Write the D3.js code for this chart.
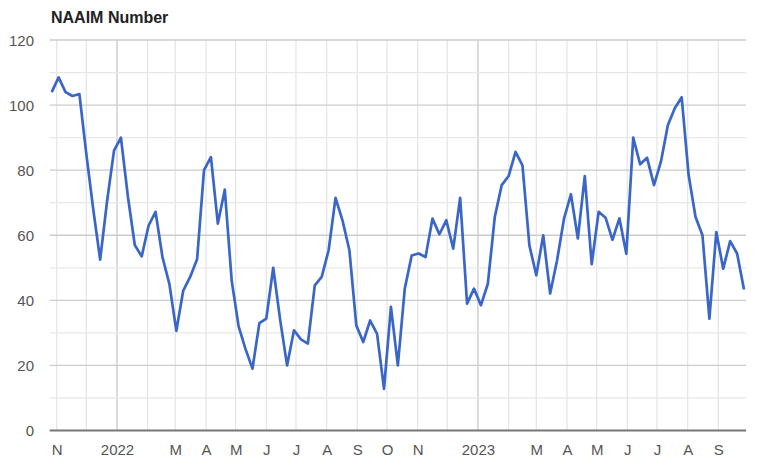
<!DOCTYPE html>
<html>
<head>
<meta charset="utf-8">
<script src="https://cdn.jsdelivr.net/npm/d3@7"></script>
<style>
  html, body { margin: 0; padding: 0; background: #fff; }
  svg { display: block; font-family: "Liberation Sans", Arial, sans-serif; }
</style>
</head>
<body>
<svg id="chart" width="758" height="468"></svg>
<script>
// ---- data ----
const title = "NAAIM Number";
const startDate = "2021-10-27";   // first weekly reading (Wednesday)
const naaimValues = [
  104, 108.5, 104, 102.8, 103.4, 85, 68, 52.5, 70.5, 86,
  90, 72, 57, 53.5, 63, 67.2, 53.3, 45, 30.6, 43,
  47.2, 52.6, 80, 84, 63.6, 74, 46, 32, 25, 19,
  33, 34.4, 50, 34, 20, 30.8, 28, 26.7, 44.6, 47.2,
  55.4, 71.5, 64.6, 55.4, 32.3, 27.2, 33.8, 29.7, 12.8, 38,
  20, 43.6, 53.8, 54.4, 53.3, 65.1, 60.3, 64.6, 55.9, 71.5,
  39, 43.6, 38.5, 45.1, 65.6, 75.4, 78.2, 85.6, 81.5, 56.9,
  47.7, 60, 42.1, 52.3, 65.1, 72.6, 59, 78.2, 51.1, 67.2,
  65.4, 58.6, 65.2, 54.3, 90, 81.8, 83.8, 75.4, 82.6, 93.8,
  99, 102.4, 78.5, 65.6, 60, 34.4, 61, 49.7, 58.2, 54.4,
  43.3
];
const xTickDates = ["2021-11-01","2022-01-01","2022-03-01","2022-04-01","2022-05-01","2022-06-01",
  "2022-07-01","2022-08-01","2022-09-01","2022-10-01","2022-11-01","2023-01-01","2023-03-01",
  "2023-04-01","2023-05-01","2023-06-01","2023-07-01","2023-08-01","2023-09-01"];
const xTickLabels = ["N","2022","M","A","M","J","J","A","S","O","N","2023","M","A","M","J","J","A","S"];
const yTicks = [0, 20, 40, 60, 80, 100, 120];
const yMinorTicks = [10, 30, 50, 70, 90, 110];

// ---- build ----
const parse = d3.utcParse("%Y-%m-%d");
const t0 = parse(startDate);
const points = naaimValues.map((v, i) => ({ date: d3.utcDay.offset(t0, 7 * i), value: v }));

const svg = d3.select("#chart");
const pLeft = 51.7, pRight = 744, pTop = 40, pBottom = 430.5;

const x = d3.scaleUtc()
  .domain(d3.extent(points, d => d.date))
  .range([pLeft, pRight]);
const y = d3.scaleLinear().domain([0, 120]).range([pBottom, pTop]);

// vertical month gridlines
const months = d3.utcMonth.range(d3.utcMonth.ceil(x.domain()[0]), x.domain()[1]);
svg.append("g").selectAll("line").data(months).join("line")
  .attr("x1", d => x(d)).attr("x2", d => x(d))
  .attr("y1", pTop).attr("y2", pBottom)
  .attr("stroke", d => d.getUTCMonth() === 0 ? "#c8c8c8" : "#e6e6e6")
  .attr("stroke-width", 1.3);

// horizontal gridlines
svg.append("g").selectAll("line").data(yMinorTicks).join("line")
  .attr("x1", pLeft - 2).attr("x2", pRight + 2)
  .attr("y1", d => y(d)).attr("y2", d => y(d))
  .attr("stroke", "#e8e8e8").attr("stroke-width", 1.3);
svg.append("g").selectAll("line").data(yTicks.filter(d => d > 0)).join("line")
  .attr("x1", pLeft - 2).attr("x2", pRight + 2)
  .attr("y1", d => y(d)).attr("y2", d => y(d))
  .attr("stroke", "#cccccc").attr("stroke-width", 1.3);

// baseline
svg.append("line")
  .attr("x1", pLeft - 2).attr("x2", pRight + 2)
  .attr("y1", y(0)).attr("y2", y(0))
  .attr("stroke", "#777").attr("stroke-width", 2.2);

// y axis labels
const yAxis = d3.axisLeft(y).tickValues(yTicks).tickSize(0).tickPadding(0);
const gy = svg.append("g").attr("transform", `translate(34,0)`).call(yAxis);
gy.select(".domain").remove();
gy.selectAll("text").attr("font-size", 15).attr("fill", "#555")
  .attr("font-family", "'Liberation Sans', Arial, sans-serif").attr("dy", "0.36em");

// x axis labels
const xAxis = d3.axisBottom(x)
  .tickValues(xTickDates.map(parse))
  .tickFormat((d, i) => xTickLabels[i])
  .tickSize(0).tickPadding(0);
const gx = svg.append("g").attr("transform", `translate(0,${pBottom + 14})`).call(xAxis);
gx.select(".domain").remove();
gx.selectAll("text").attr("font-size", 15).attr("fill", "#555")
  .attr("font-family", "'Liberation Sans', Arial, sans-serif").attr("dy", "0.71em");

// line
const line = d3.line().x(d => x(d.date)).y(d => y(d.value));
svg.append("path").datum(points)
  .attr("d", line)
  .attr("fill", "none")
  .attr("stroke", "#3a66c8")
  .attr("stroke-width", 2.7)
  .attr("stroke-linejoin", "round");

// title
svg.append("text")
  .attr("x", 51).attr("y", 23)
  .attr("font-size", 16).attr("font-weight", "bold").attr("fill", "#222")
  .text(title);
</script>
</body>
</html>
